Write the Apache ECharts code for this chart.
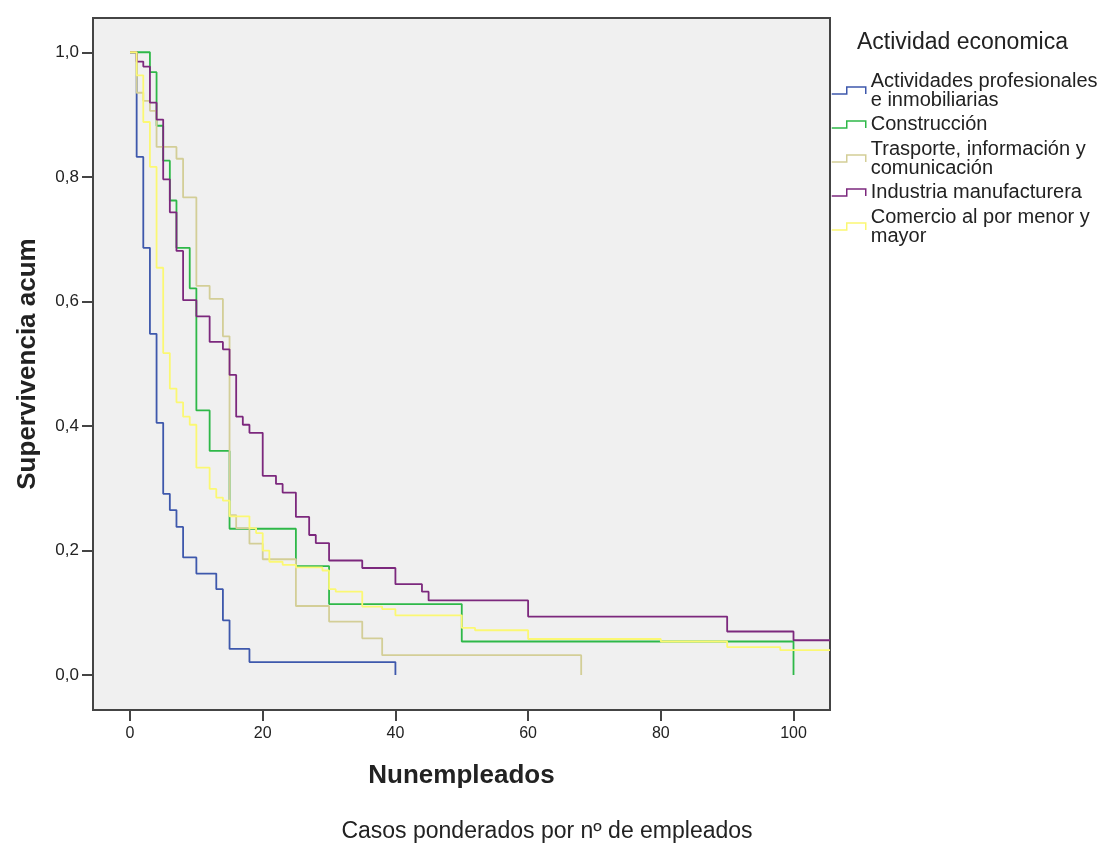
<!DOCTYPE html>
<html>
<head>
<meta charset="utf-8">
<script src="https://cdn.jsdelivr.net/npm/echarts@6/dist/echarts.min.js"></script>
<style>
html,body{margin:0;padding:0;background:#fff;}
#chart{width:1103px;height:847px;}
</style>
</head>
<body>
<div id="chart"></div>
<script>
// ---- data ----
var seriesNames = [
  'Actividades profesionales\ne inmobiliarias',
  'Construcción',
  'Trasporte, información y\ncomunicación',
  'Industria manufacturera',
  'Comercio al por menor y\nmayor'
];
var seriesColors = ['#3E58AC', '#2EB848', '#D3CE97', '#7C287D', '#FBF873'];

var profTime = [0, 1, 2, 3, 4, 5, 6, 7, 8, 10, 13, 14, 15, 18, 40];
var profSurv = [1.0, 0.832, 0.686, 0.548, 0.405, 0.291, 0.265, 0.238, 0.189, 0.163, 0.138, 0.088, 0.042, 0.021, 0.0];

var consTime = [0, 3, 4, 5, 6, 7, 9, 10, 12, 15, 25, 30, 50, 100];
var consSurv = [1.0, 0.968, 0.882, 0.826, 0.762, 0.686, 0.621, 0.425, 0.360, 0.235, 0.175, 0.114, 0.054, 0.0];

var trasTime = [0, 1, 2, 3, 4, 7, 8, 10, 12, 14, 15, 16, 18, 20, 25, 30, 35, 38, 68];
var trasSurv = [1.0, 0.935, 0.922, 0.906, 0.848, 0.829, 0.767, 0.625, 0.604, 0.544, 0.257, 0.236, 0.211, 0.186, 0.111, 0.086, 0.059, 0.032, 0.0];

var indTime = [0, 1, 2, 3, 4, 5, 6, 7, 8, 10, 12, 14, 15, 16, 17, 18, 20, 22, 23, 25, 27, 28, 30, 35, 40, 44, 45, 60, 90, 100, 105.5];
var indSurv = [1.0, 0.985, 0.977, 0.919, 0.892, 0.796, 0.743, 0.681, 0.602, 0.576, 0.535, 0.523, 0.482, 0.415, 0.402, 0.389, 0.320, 0.307, 0.293, 0.254, 0.225, 0.212, 0.184, 0.172, 0.146, 0.134, 0.120, 0.094, 0.070, 0.056, 0.056];

var comTime = [0, 1, 2, 3, 4, 5, 6, 7, 8, 9, 10, 12, 13, 14, 15, 18, 19, 20, 21, 23, 25, 29, 30, 31, 35, 38, 40, 50, 52, 60, 80, 90, 98, 105.5];
var comSurv = [1.0, 0.963, 0.888, 0.816, 0.654, 0.517, 0.460, 0.438, 0.415, 0.402, 0.333, 0.299, 0.285, 0.280, 0.255, 0.236, 0.228, 0.200, 0.182, 0.177, 0.173, 0.168, 0.138, 0.134, 0.110, 0.106, 0.096, 0.076, 0.072, 0.058, 0.054, 0.045, 0.040, 0.040];

var xTicks = [0, 20, 40, 60, 80, 100];
var yTicks = [0, 0.2, 0.4, 0.6, 0.8, 1.0];

var legendTitle = 'Actividad economica';
var xTitle = 'Nunempleados';
var yTitle = 'Supervivencia acum';
var footnote = 'Casos ponderados por nº de empleados';

// ---- build ----
function pairs(t, s) { return t.map(function (v, i) { return [v, s[i]]; }); }
var allData = [pairs(profTime, profSurv), pairs(consTime, consSurv), pairs(trasTime, trasSurv), pairs(indTime, indSurv), pairs(comTime, comSurv)];

var FONT = '"Liberation Sans", Arial, sans-serif';

var series = allData.map(function (d, i) {
  return {
    name: seriesNames[i],
    type: 'line',
    step: 'end',
    data: d,
    showSymbol: false,
    symbol: 'none',
    clip: true,
    lineStyle: { color: seriesColors[i], width: 1.8 },
    itemStyle: { color: seriesColors[i] },
    z: 2 + i
  };
});

var chart = echarts.init(document.getElementById('chart'));
chart.setOption({
  animation: false,
  backgroundColor: '#ffffff',
  title: {
    text: legendTitle,
    left: 857, top: 31, padding: 0,
    textStyle: { fontFamily: FONT, fontSize: 23, fontWeight: 'normal', color: '#222' }
  },
  legend: {
    orient: 'vertical',
    left: 831, top: 71, padding: 0,
    itemWidth: 34, itemHeight: 7, itemGap: 4.5,
    icon: 'path://M0,7 L15,7 L15,0 L34,0 L34,7',
    textStyle: { fontFamily: FONT, fontSize: 20, lineHeight: 19, color: '#222' },
    data: seriesNames.map(function (n, i) {
      return { name: n, itemStyle: { color: 'transparent', borderColor: seriesColors[i], borderWidth: 1.5 } };
    })
  },
  grid: {
    left: 93, top: 18, right: 273, bottom: 137,
    show: true, backgroundColor: '#f0f0f0', borderColor: '#444', borderWidth: 2
  },
  xAxis: {
    type: 'value', min: -5.58, max: 105.5,
    name: xTitle, nameLocation: 'middle', nameGap: 53,
    nameTextStyle: { fontFamily: FONT, fontSize: 26, fontWeight: 'bold', color: '#222' },
    axisLine: { show: true, onZero: false, lineStyle: { color: '#444', width: 2 } },
    axisTick: { show: true, length: 11, customValues: xTicks, lineStyle: { color: '#444', width: 2 } },
    axisLabel: { customValues: xTicks, margin: 16, fontFamily: FONT, fontSize: 16, color: '#222' },
    splitLine: { show: false }
  },
  yAxis: {
    type: 'value', min: -0.056, max: 1.055,
    name: yTitle, nameLocation: 'middle', nameGap: 52,
    nameTextStyle: { fontFamily: FONT, fontSize: 26, fontWeight: 'bold', color: '#222' },
    axisLine: { show: true, onZero: false, lineStyle: { color: '#444', width: 2 } },
    axisTick: { show: true, length: 11, customValues: yTicks, lineStyle: { color: '#444', width: 2 } },
    axisLabel: {
      customValues: yTicks, margin: 14, fontFamily: FONT, fontSize: 17, color: '#222',
      formatter: function (v) { return v.toFixed(1).replace('.', ','); }
    },
    splitLine: { show: false }
  },
  graphic: [{
    type: 'text', x: 547, y: 832,
    style: { text: footnote, font: '23px ' + FONT, fill: '#222', align: 'center', verticalAlign: 'middle' }
  }],
  series: series
});
</script>
</body>
</html>
